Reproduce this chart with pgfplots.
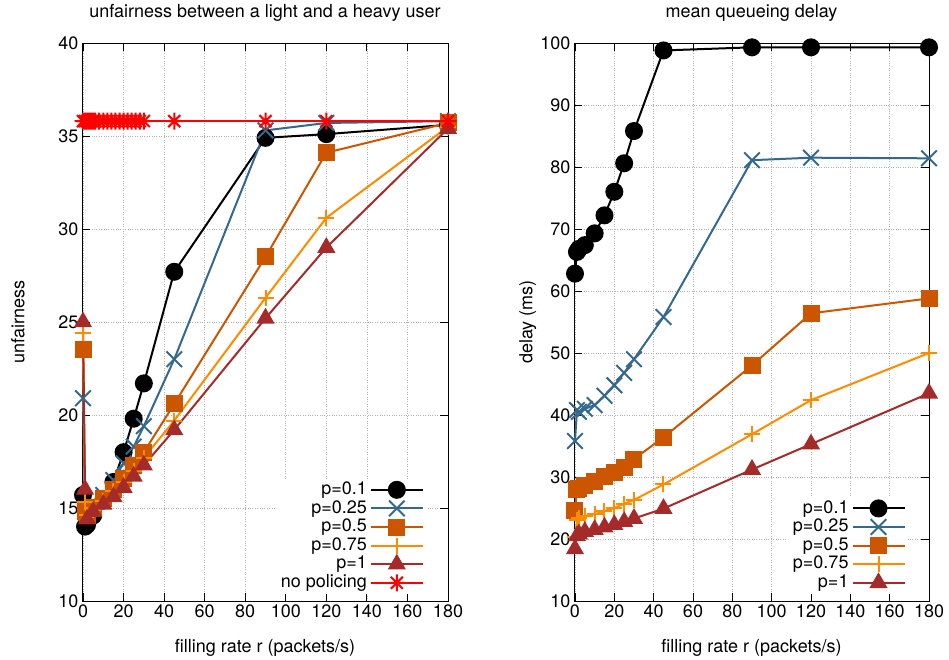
\documentclass[border=0pt]{standalone}
\usepackage{pgfplots}
\pgfplotsset{compat=1.18}
\usepackage{fontspec}
\setmainfont{TeX Gyre Heros}
\definecolor{cblue}{RGB}{52,104,140}
\definecolor{corange}{RGB}{204,85,0}
\definecolor{clorange}{RGB}{255,140,0}
\definecolor{cbrown}{RGB}{165,42,42}
\definecolor{cred}{RGB}{255,0,0}
\pgfdeclareplotmark{astEight}{%
  \pgfpathmoveto{\pgfqpoint{-\pgfplotmarksize}{0pt}}\pgfpathlineto{\pgfqpoint{\pgfplotmarksize}{0pt}}%
  \pgfpathmoveto{\pgfqpoint{0pt}{-\pgfplotmarksize}}\pgfpathlineto{\pgfqpoint{0pt}{\pgfplotmarksize}}%
  \pgfpathmoveto{\pgfqpoint{-.7071\pgfplotmarksize}{-.7071\pgfplotmarksize}}\pgfpathlineto{\pgfqpoint{.7071\pgfplotmarksize}{.7071\pgfplotmarksize}}%
  \pgfpathmoveto{\pgfqpoint{-.7071\pgfplotmarksize}{.7071\pgfplotmarksize}}\pgfpathlineto{\pgfqpoint{.7071\pgfplotmarksize}{-.7071\pgfplotmarksize}}%
  \pgfusepathqstroke}
\pgfplotsset{
  myaxis/.style={
    scale only axis,
    height=558pt,
    xmin=-0.5, xmax=180,
    xtick={0,20,...,180},
    grid=major,
    major grid style={dotted, gray!60, line width=0.7pt},
    axis line style={line width=0.8pt},
    major tick length=8pt,
    tick style={line width=0.8pt, black},
    font=\fontsize{18}{21}\selectfont,
    tick label style={font=\fontsize{18}{21}\selectfont},
    /pgf/number format/assume math mode=true,
    xlabel={filling rate r (packets/s)},
    xlabel style={at={(axis description cs:0.5,0)}, anchor=center, yshift=-47pt},
    title style={at={(axis description cs:0.5,1)}, anchor=center, yshift=24pt},
    legend cell align=right,
    legend style={draw=none, fill=white, font=\fontsize{18}{21}\selectfont,
      row sep=0pt, inner sep=2pt,
      nodes={text height=13pt, text depth=3.6pt, inner ysep=1pt, inner xsep=3pt}},
    legend plot pos=right,
    legend image code/.code={\draw[mark repeat=2,mark phase=2,#1] plot coordinates {(0pt,0pt) (26pt,0pt) (52pt,0pt)};},
    every axis plot/.append style={line width=2pt},
  },
  s1/.style={black, mark=*, mark size=8pt},
  s2/.style={cblue, mark=x, mark size=11pt},
  s3/.style={corange, mark=square*, mark size=7.5pt},
  s4/.style={clorange, mark=+, mark size=8pt},
  s5/.style={cbrown, mark=triangle*, mark size=8.5pt},
  s6/.style={cred, mark=astEight, mark size=8.5pt},
}
\begin{document}
\begin{tikzpicture}
\useasboundingbox (0pt,0pt) rectangle (949pt,660pt);
\begin{axis}[myaxis,
  at={(82pt,59pt)}, anchor=south west, width=366pt,
  ymin=10, ymax=40, ytick={10,15,...,40},
  title={unfairness between a light and a heavy user},
  ylabel={unfairness},
  ylabel style={at={(axis description cs:-0.175,0.5)}, anchor=center},
  legend style={at={(0.94,0.012)}, anchor=south east},
]
\addplot[s1] coordinates {(0,15.7)(1,14.0)(2,14.1)(5,14.6)(10,15.4)(15,16.4)(20,18.0)(25,19.8)(30,21.7)(45,27.7)(90,34.9)(120,35.1)(180,35.6)};
\addlegendentry{p=0.1}
\addplot[s2] coordinates {(0,20.9)(1,14.8)(2,14.6)(5,15.0)(10,15.7)(15,16.5)(20,17.4)(25,18.3)(30,19.4)(45,23.0)(90,35.3)(120,35.7)(180,35.8)};
\addlegendentry{p=0.25}
\addplot[s3] coordinates {(0,23.5)(1,14.8)(2,14.6)(5,15.0)(10,15.5)(15,16.0)(20,16.6)(25,17.3)(30,18.0)(45,20.6)(90,28.5)(120,34.1)(180,35.7)};
\addlegendentry{p=0.5}
\addplot[s4] coordinates {(0,24.4)(1,15.3)(2,14.6)(5,14.9)(10,15.4)(15,15.9)(20,16.4)(25,17.0)(30,17.7)(45,19.7)(90,26.3)(120,30.6)(180,35.5)};
\addlegendentry{p=0.75}
\addplot[s5] coordinates {(0,25.0)(1,16.0)(2,14.4)(5,14.8)(10,15.2)(15,15.6)(20,16.1)(25,16.7)(30,17.3)(45,19.2)(90,25.2)(120,29.0)(180,35.4)};
\addlegendentry{p=1}
\addplot[s6] coordinates {(0,35.8)(1,35.8)(2,35.8)(3,35.8)(4,35.8)(5,35.8)(6,35.8)(8,35.8)(10,35.8)(12,35.8)(14,35.8)(16,35.8)(18,35.8)(20,35.8)(22,35.8)(24,35.8)(26,35.8)(28,35.8)(30,35.8)(45,35.8)(90,35.8)(120,35.8)(180,35.8)};
\addlegendentry{no policing}
\end{axis}
\begin{axis}[myaxis,
  at={(574pt,59pt)}, anchor=south west, width=355pt,
  ymin=10, ymax=100, ytick={10,20,...,100},
  title={mean queueing delay},
  ylabel={delay (ms)},
  ylabel style={at={(axis description cs:-0.13,0.5)}, anchor=center},
  legend style={at={(0.94,0.012)}, anchor=south east},
]
\addplot[s1] coordinates {(0,62.8)(1,66.3)(2,66.8)(5,67.4)(10,69.3)(15,72.2)(20,76.0)(25,80.6)(30,85.8)(45,98.8)(90,99.3)(120,99.3)(180,99.3)};
\addlegendentry{p=0.1}
\addplot[s2] coordinates {(0,35.8)(1,40.8)(2,40.5)(5,41.0)(10,41.6)(15,43.1)(20,44.8)(25,46.8)(30,49.0)(45,55.8)(90,81.1)(120,81.5)(180,81.4)};
\addlegendentry{p=0.25}
\addplot[s3] coordinates {(0,24.6)(1,28.0)(2,28.2)(5,28.6)(10,29.2)(15,30.0)(20,30.8)(25,31.6)(30,32.9)(45,36.4)(90,48.0)(120,56.4)(180,58.8)};
\addlegendentry{p=0.5}
\addplot[s4] coordinates {(0,20.3)(1,23.0)(2,23.4)(5,23.7)(10,24.0)(15,24.5)(20,25.0)(25,25.7)(30,26.3)(45,28.8)(90,36.9)(120,42.4)(180,50.0)};
\addlegendentry{p=0.75}
\addplot[s5] coordinates {(0,18.4)(1,20.5)(2,20.8)(5,21.2)(10,21.5)(15,21.9)(20,22.3)(25,22.8)(30,23.3)(45,24.9)(90,31.2)(120,35.3)(180,43.5)};
\addlegendentry{p=1}
\end{axis}
\end{tikzpicture}
\end{document}
